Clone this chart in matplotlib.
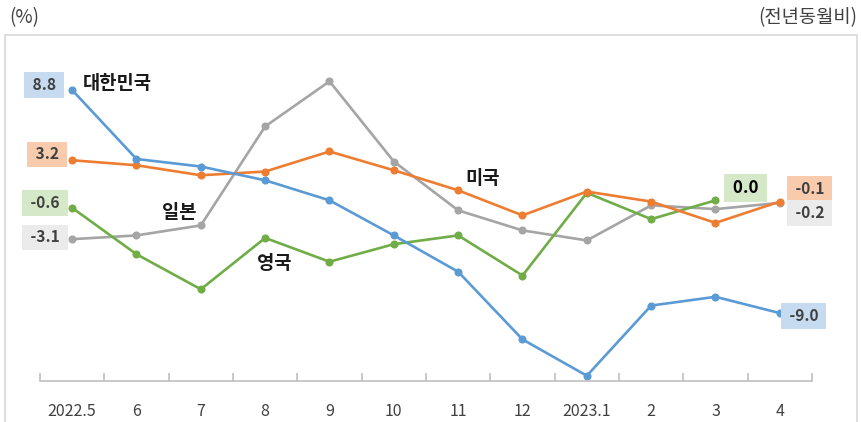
import matplotlib.pyplot as plt
from matplotlib.patches import Rectangle

plt.rcParams['font.family'] = ['Noto Sans CJK KR', 'DejaVu Sans']

months = ['2022.5', '6', '7', '8', '9', '10', '11', '12', '2023.1', '2', '3', '4']
korea = [8.8, 3.3, 2.7, 1.6, 0.0, -2.8, -5.7, -11.1, -14.0, -8.4, -7.7, -9.0]
usa = [3.2, 2.8, 2.0, 2.3, 3.9, 2.4, 0.8, -1.2, 0.7, -0.1, -1.8, -0.1]
japan = [-3.1, -2.8, -2.0, 5.9, 9.5, 3.1, -0.8, -2.4, -3.2, -0.4, -0.7, -0.2]
uk = [-0.6, -4.3, -7.1, -3.0, -4.9, -3.5, -2.8, -6.0, 0.6, -1.5, 0.0]

c_kr, c_us, c_jp, c_uk = '#5b9bd5', '#ed7d31', '#a5a5a5', '#70ad47'

fig = plt.figure(figsize=(8.61, 4.22), dpi=100)
fig.patches.append(Rectangle((5 / 861, -0.01), 852 / 861, (422 - 35) / 422 + 0.01,
                             transform=fig.transFigure, fill=False,
                             edgecolor='#d9d9d9', lw=1.2))
ax = fig.add_axes([40 / 861, 41 / 422, 772 / 861, 331 / 422])
x = list(range(len(months)))

for vals, col in [(japan, c_jp), (uk, c_uk), (usa, c_us), (korea, c_kr)]:
    ax.plot(x[:len(vals)], vals, color=col, lw=1.9, marker='o', ms=4.8,
            solid_joinstyle='round')

ax.set_xlim(-0.5, len(months) - 0.5)
ax.set_ylim(-14.42, 12.0)
for s in ['left', 'right', 'top']:
    ax.spines[s].set_visible(False)
ax.spines['bottom'].set_color('#bfbfbf')
ax.spines['bottom'].set_linewidth(1.2)
ax.set_yticks([])
ax.set_xticks(x)
ax.set_xticklabels(months, fontsize=11.5, color='#404040')
ax.tick_params(axis='x', which='major', length=0, pad=16)
ax.set_xticks([i - 0.5 for i in range(len(months) + 1)], minor=True)
ax.tick_params(axis='x', which='minor', direction='in', length=6,
               color='#bfbfbf', width=1.2)


def box(xv, yv, txt, fc, dx, dy, color='#404040', size=11.2):
    ax.annotate(txt, (xv, yv), xytext=(dx, dy), textcoords='offset pixels',
                ha='center', va='center', fontsize=size, fontweight='bold',
                color=color,
                bbox=dict(boxstyle='square,pad=0.3', fc=fc, ec='none'))


box(0, korea[0], ' %.1f ' % korea[0], '#c6dbef', -28, 5)
box(0, usa[0], ' %.1f ' % usa[0], '#f8cbad', -25, 6)
box(0, uk[0], ' %.1f ' % uk[0], '#d5e8c8', -27, 5)
box(0, japan[0], ' %.1f ' % japan[0], '#ebebeb', -27, 2)
box(len(uk) - 1, uk[-1], ' %.1f ' % uk[-1], '#d5e8c8', 30, 12, color='black', size=12.2)
box(len(usa) - 1, usa[-1], ' %.1f ' % usa[-1], '#f8cbad', 30, 13)
box(len(japan) - 1, japan[-1], ' %.1f ' % japan[-1], '#ebebeb', 30, -10)
box(len(korea) - 1, korea[-1], ' %.1f ' % korea[-1], '#c6dbef', 24, -3)

lab = dict(fontsize=13.5, fontweight='bold', color='#1a1a1a', va='center', ha='left')
ax.text(0.17, 9.36, '대한민국', **lab)
ax.text(6.11, 1.78, '미국', **lab)
ax.text(1.40, -0.97, '일본', **lab)
ax.text(2.87, -5.04, '영국', **lab)

fig.text(9 / 861, 1 - 18 / 422, '(%)', fontsize=13.5, color='#404040', va='center', ha='left')
fig.text(857 / 861, 1 - 18 / 422, '(전년동월비)', fontsize=13.5, color='#404040',
         va='center', ha='right')

fig.savefig('out.png', dpi=100)
